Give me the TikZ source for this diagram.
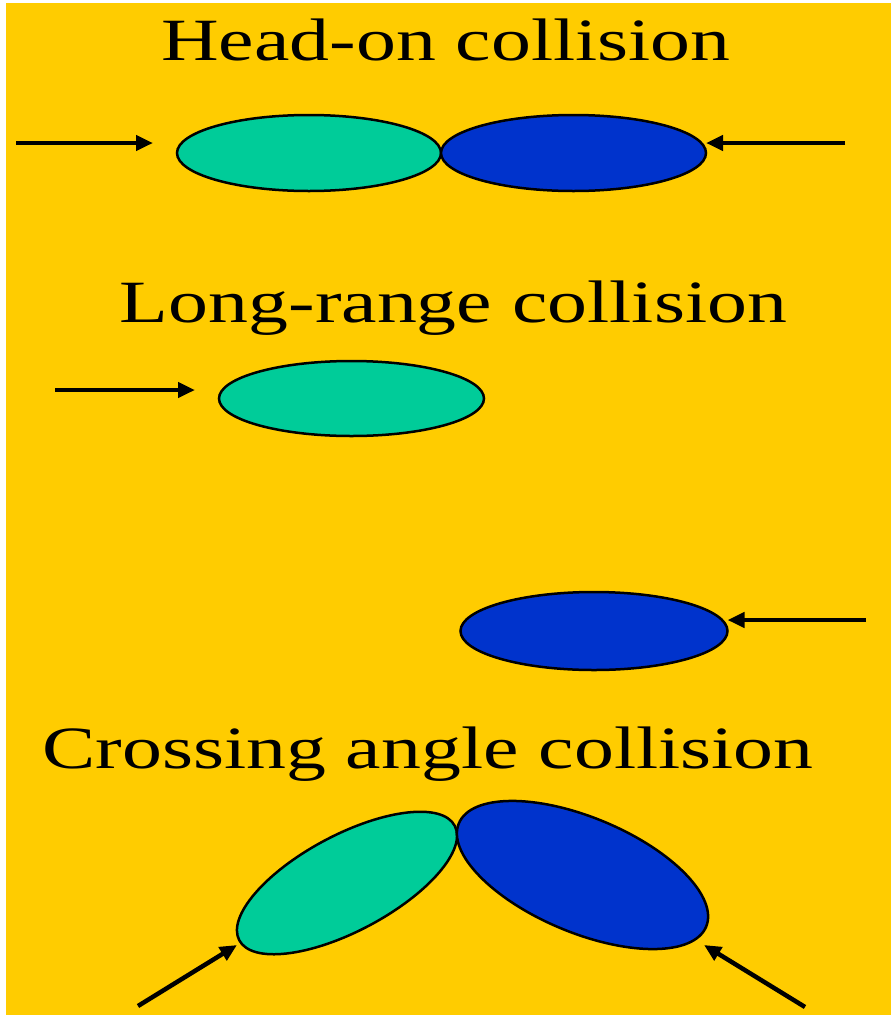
\documentclass[tikz,border=0pt]{standalone}
\usepackage{fontspec}
\newfontfamily\titlefont[FakeStretch=1.33]{Liberation Serif}
\usepackage{tikz}
\usetikzlibrary{shapes.geometric, arrows.meta, positioning}
\definecolor{slidebg}{RGB}{255,204,0}
\definecolor{beamgreen}{RGB}{0,204,153}
\definecolor{beamblue}{RGB}{0,51,204}

\begin{document}
\begin{tikzpicture}[x=1pt, y=-1pt,
  title/.style={font=\titlefont\fontsize{60}{72}\selectfont,
                inner sep=0pt, anchor=base},
  bunch/.style={ellipse, draw=black, line width=2.5pt,
                inner sep=0pt, outer sep=0pt},
  greenbunch/.style={bunch, fill=beamgreen},
  bluebunch/.style={bunch, fill=beamblue},
  arr/.style={-{Triangle[length=17pt, width=15pt]}, line width=4.5pt}
]

%% ── slide background ─────────────────────────────────────────────────
\useasboundingbox (0,0) rectangle (891,1015);
\fill[slidebg] (6,3) rectangle (891,1015);

%% ── HEAD-ON ──────────────────────────────────────────────────────────
\node[title] at (446,60) (thead) {Head-on collision};
\node[greenbunch, minimum width=264pt, minimum height=76pt] at (309,153) (hg) {};
\node[bluebunch,  minimum width=265pt, minimum height=76pt, right=0pt of hg] (hb) {};
\coordinate (hl0) at (16,143);
\coordinate (hl1) at (153,143);
\coordinate (hr0) at (845,143);
\draw[arr] (hl0) -- (hl1);
\draw[arr] (hr0) -- (hr0 -| hb.east);

%% ── LONG-RANGE ───────────────────────────────────────────────────────
\node[title] at (453.5,322) (tlong) {Long-range collision};
\node[greenbunch, minimum width=265pt, minimum height=75pt] at (351.5,398.5) (lg) {};
\node[bluebunch,  minimum width=267pt, minimum height=78pt] at (594,631) (lb) {};
\coordinate (ll0) at (55,390);
\coordinate (ll1) at (195,390);
\coordinate (lr0) at (866,620);
\draw[arr] (ll0) -- (ll1);
\draw[arr] (lr0) -- (lr0 -| lb.east);

%% ── CROSSING ANGLE ───────────────────────────────────────────────────
\node[title] at (428,768) (tcross) {Crossing angle collision};
\node[greenbunch, minimum width=244pt, minimum height=96pt, rotate=28]    at (347,883)   (cg) {};
\node[bluebunch,  minimum width=268pt, minimum height=115pt, rotate=-22.7] at (582.5,875) (cb) {};
\coordinate (cl0) at (138,1006);
\coordinate (cl1) at (237,945);
\coordinate (cr0) at (805,1007);
\coordinate (cr1) at (704,945);
\draw[arr] (cl0) -- (cl1);
\draw[arr] (cr0) -- (cr1);

\end{tikzpicture}
\end{document}
